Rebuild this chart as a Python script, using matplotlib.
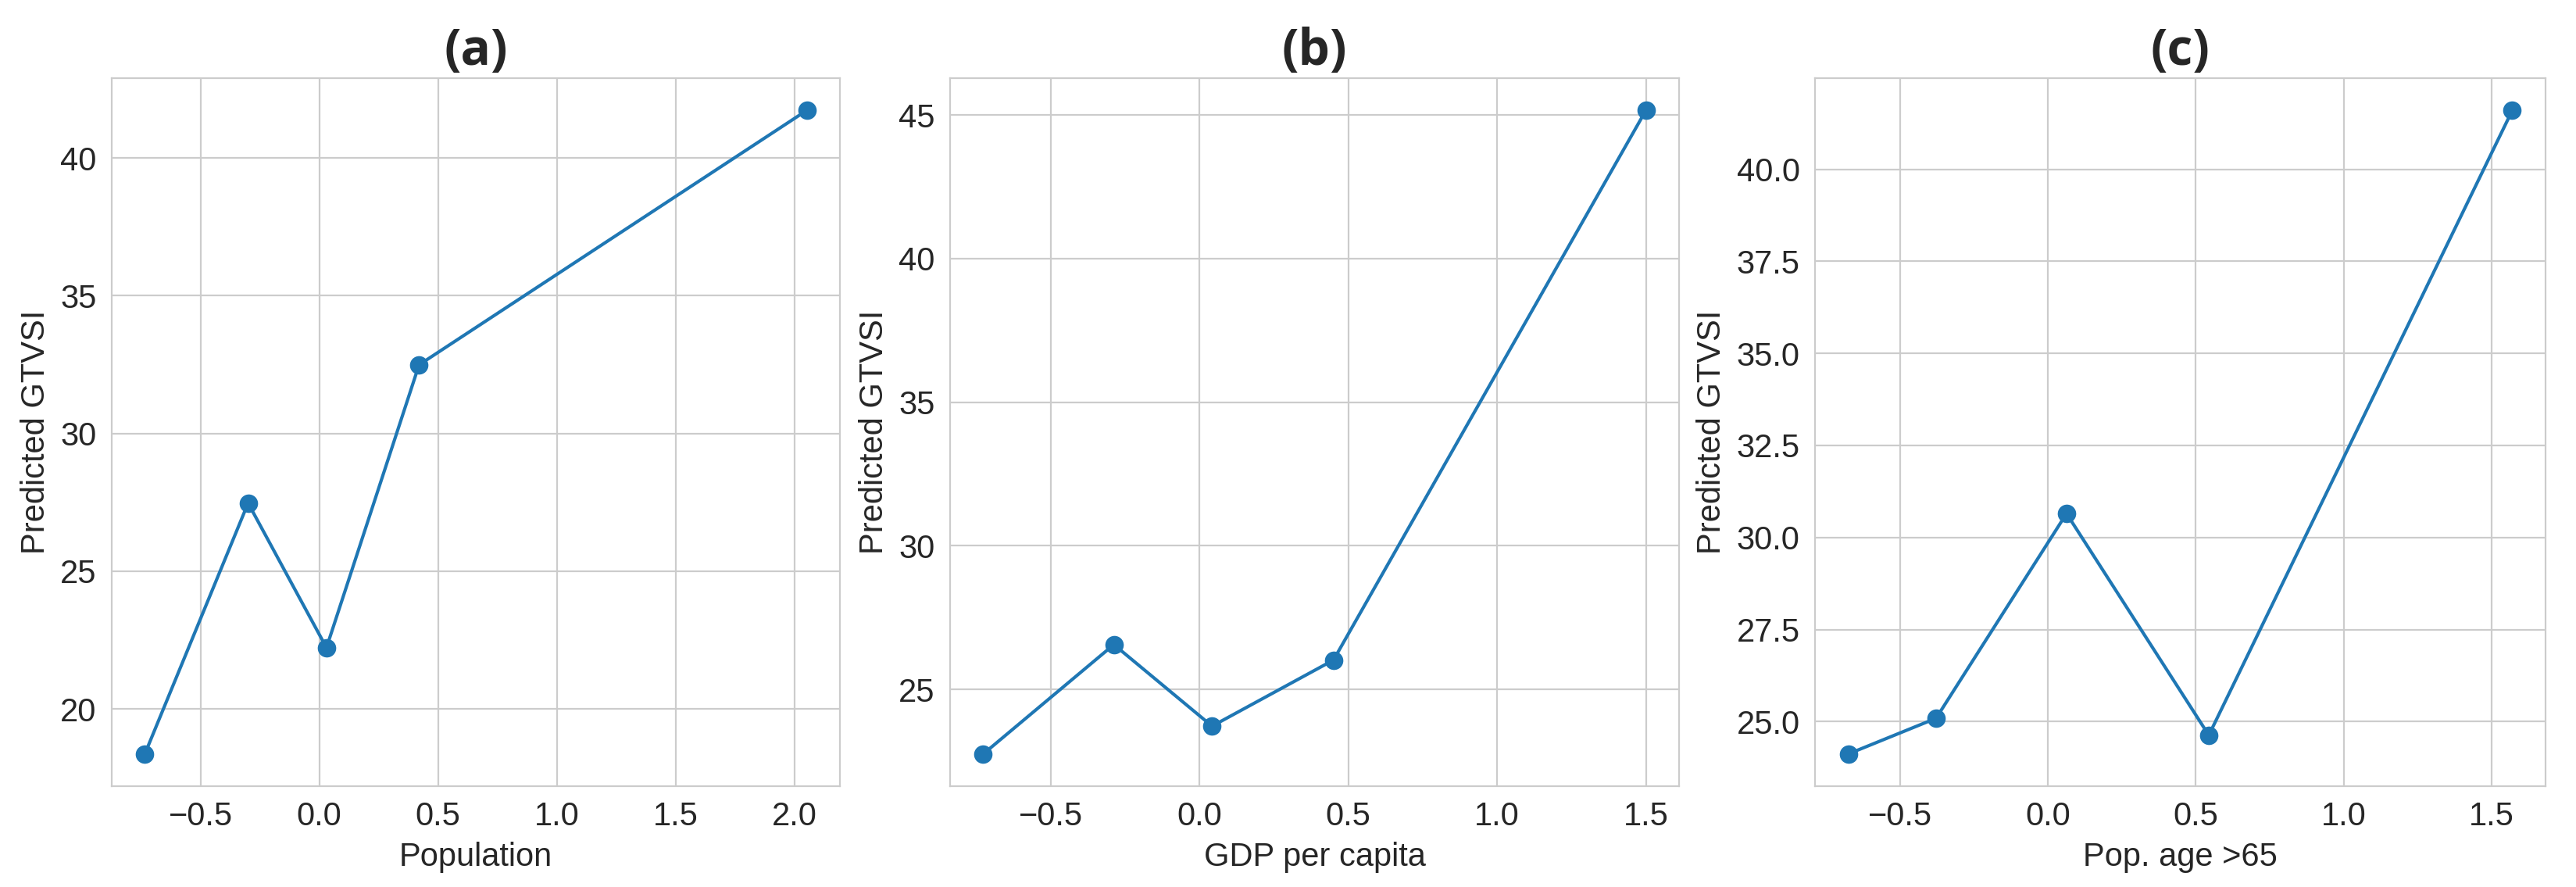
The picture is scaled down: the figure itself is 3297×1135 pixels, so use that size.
import matplotlib
matplotlib.use("Agg")
import matplotlib.pyplot as plt
import seaborn as sns

sns.set_style("whitegrid")
plt.rcParams['font.family'] = ['Liberation Sans', 'DejaVu Sans']

titles = ["(a)", "(b)", "(c)"]
xlabels = ["Population", "GDP per capita", "Pop. age >65"]
ylabel = "Predicted GTVSI"

x_pop = [-0.735, -0.30, 0.03, 0.42, 2.053]
y_pop = [18.36, 27.47, 22.22, 32.49, 41.73]

x_gdp = [-0.727, -0.288, 0.042, 0.450, 1.50]
y_gdp = [22.75, 26.56, 23.72, 26.02, 45.16]

x_age = [-0.675, -0.378, 0.063, 0.544, 1.570]
y_age = [24.12, 25.09, 30.65, 24.63, 41.60]

xs = [x_pop, x_gdp, x_age]
ys = [y_pop, y_gdp, y_age]

W, H = 3298, 1135
fig = plt.figure(figsize=(W / 200, H / 200), dpi=200)
lefts = [143, 1216, 2323]
rights = [1075, 2149, 3258]
top, bottom = 100, 1006

for i in range(3):
    ax = fig.add_axes([lefts[i] / W, 1 - bottom / H, (rights[i] - lefts[i]) / W, (bottom - top) / H])
    ax.plot(xs[i], ys[i], marker='o', color='#1f77b4', linewidth=1.5, markersize=7.5)
    ax.set_title(titles[i], fontsize=23, fontweight='bold', family=['Open Sans', 'DejaVu Sans'], pad=6)
    ax.set_xlabel(xlabels[i], fontsize=15, color='#262626')
    ax.set_ylabel(ylabel, fontsize=15, color='#262626')
    ax.tick_params(labelsize=15, colors='#262626')
    for s in ax.spines.values():
        s.set_color('#cccccc')

fig.savefig("out.png", dpi=200)
